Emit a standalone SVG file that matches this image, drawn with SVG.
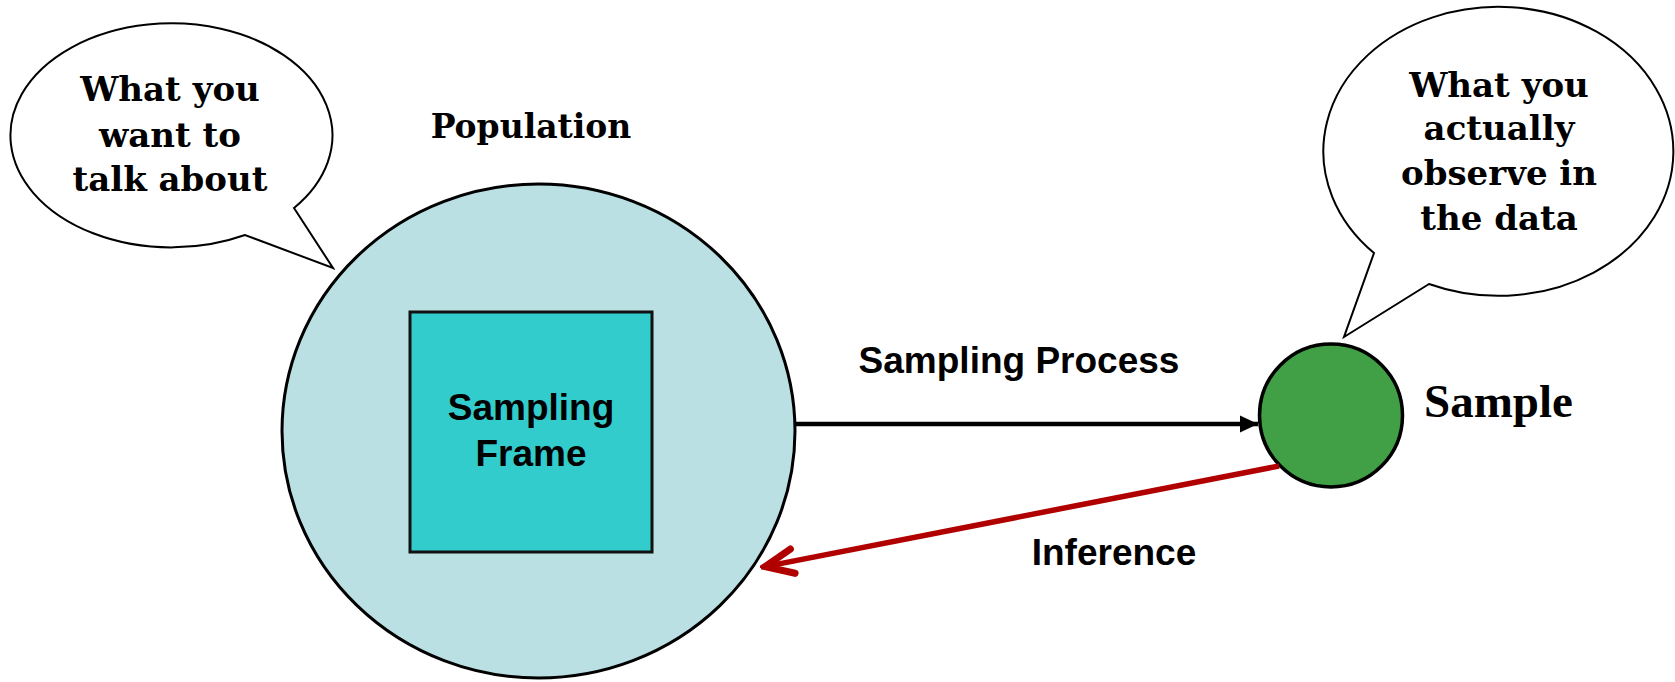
<svg xmlns="http://www.w3.org/2000/svg" width="1675" height="682" viewBox="0 0 1675 682">
  <style>
    .bubble { fill: #ffffff; stroke: #000000; stroke-width: 2; stroke-linejoin: miter; }
    .serif { font-family: "DejaVu Serif", "Liberation Serif", serif; font-weight: bold; fill: #000000; }
    .serif-t { font-family: "Liberation Serif", "Times New Roman", serif; font-weight: bold; fill: #000000; }
    .sans { font-family: "Liberation Sans", Arial, sans-serif; font-weight: bold; fill: #000000; }
    .bubble-text { font-size: 34px; text-anchor: middle; }
  </style>
  <defs>
    <marker id="head-solid" markerUnits="userSpaceOnUse" markerWidth="20" markerHeight="20" viewBox="-19 -9 20 18" refX="0" refY="0" orient="auto">
      <path d="M -18 -8.5 L 0 0 L -18 8.5 Z" fill="#000000"/>
    </marker>
    <marker id="head-open" markerUnits="userSpaceOnUse" markerWidth="40" markerHeight="40" viewBox="-30 -16 34 32" refX="0" refY="0" orient="auto">
      <path d="M -24 -10.5 L 0 0 L -24 10.5" fill="none" stroke="#b00000" stroke-width="6" stroke-linecap="round" stroke-linejoin="miter"/>
    </marker>
  </defs>

  <rect width="1675" height="682" fill="#ffffff"/>

  <!-- population -->
  <g id="population">
    <ellipse cx="538.5" cy="431" rx="256.5" ry="247" fill="#bae0e3" stroke="#000000" stroke-width="3"/>
    <text class="serif" x="531" y="138" font-size="33" text-anchor="middle">Population</text>
  </g>

  <!-- sampling frame inside the population -->
  <g id="sampling-frame">
    <rect x="410" y="312" width="242" height="240" fill="#33cccc" stroke="#111111" stroke-width="3"/>
    <text class="sans" x="531" y="420" font-size="37" text-anchor="middle">Sampling</text>
    <text class="sans" x="531" y="466" font-size="37" text-anchor="middle">Frame</text>
  </g>

  <!-- sample -->
  <g id="sample">
    <circle cx="1331" cy="415.5" r="71.5" fill="#41a046" stroke="#000000" stroke-width="3.5"/>
    <text class="serif-t" x="1424" y="417" font-size="47">Sample</text>
  </g>

  <!-- speech bubble: population -->
  <g id="bubble-population">
    <path class="bubble" d="M 245 235 A 161 112 0 1 1 294 208 L 333 268 Z"/>
    <text class="serif bubble-text" x="170" y="101">What you</text>
    <text class="serif bubble-text" x="170" y="146.5">want to</text>
    <text class="serif bubble-text" x="170" y="190.5">talk about</text>
  </g>

  <!-- speech bubble: sample -->
  <g id="bubble-sample">
    <path class="bubble" d="M 1429 284 A 175 144.5 0 1 0 1374 253 L 1344 337 Z"/>
    <text class="serif bubble-text" x="1499" y="97">What you</text>
    <text class="serif bubble-text" x="1499" y="140">actually</text>
    <text class="serif bubble-text" x="1499" y="185">observe in</text>
    <text class="serif bubble-text" x="1499" y="230">the data</text>
  </g>

  <!-- connectors -->
  <g id="connectors">
    <g id="edge-sampling">
      <line x1="796" y1="424" x2="1258" y2="424" stroke="#000000" stroke-width="4.5" marker-end="url(#head-solid)"/>
      <text class="sans" x="1019" y="373" font-size="37" text-anchor="middle">Sampling Process</text>
    </g>
    <g id="edge-inference">
      <line x1="1279" y1="466" x2="765" y2="566.6" stroke="#b00000" stroke-width="5.5" marker-end="url(#head-open)"/>
      <text class="sans" x="1114" y="565" font-size="37" text-anchor="middle">Inference</text>
    </g>
  </g>
</svg>
